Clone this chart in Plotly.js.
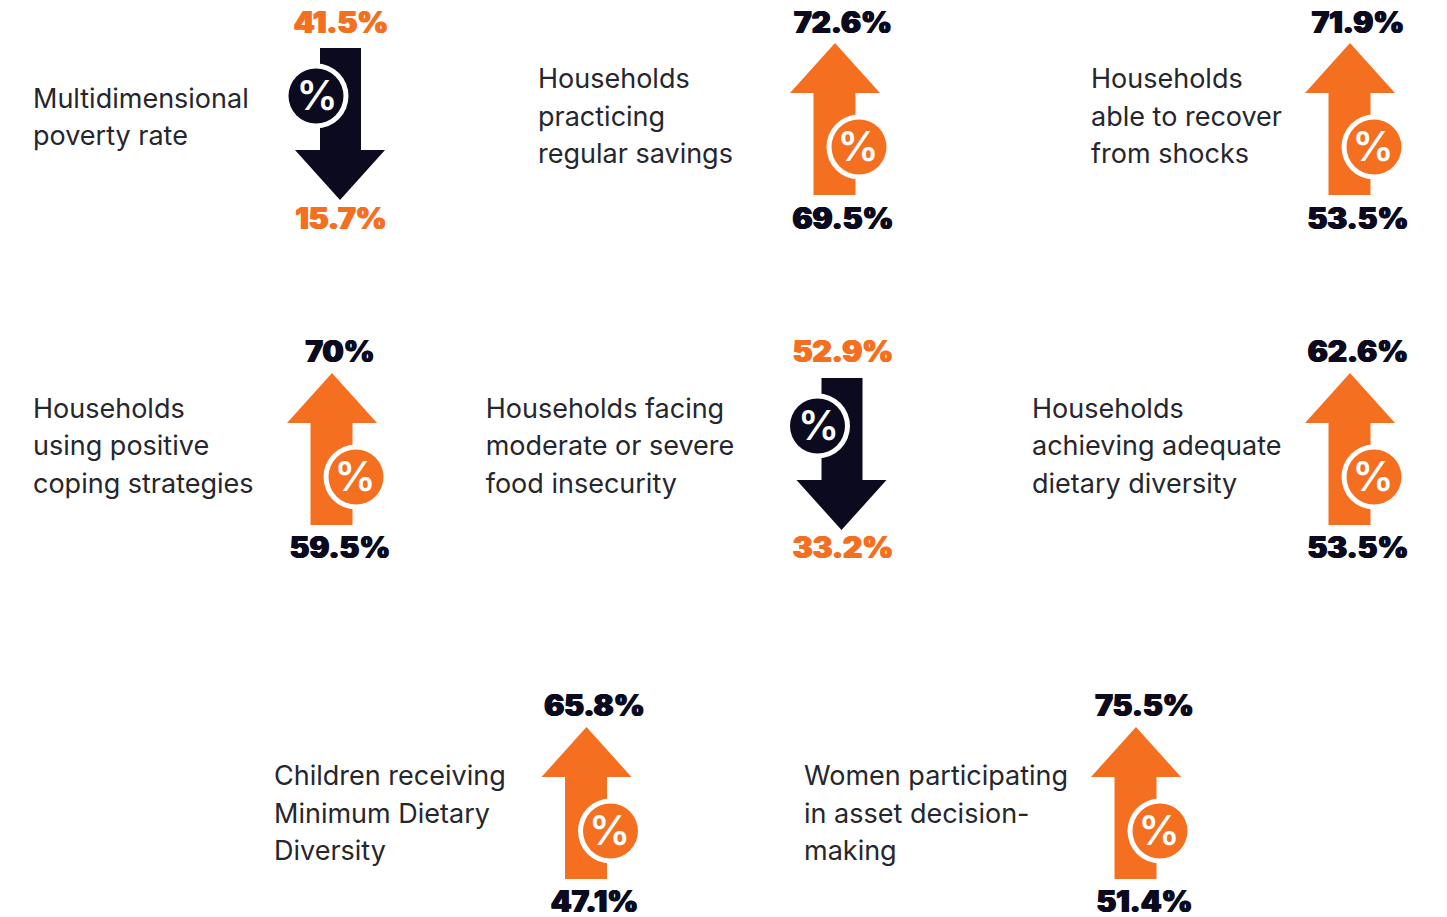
<!DOCTYPE html>
<html><head><meta charset="utf-8">
<script src="https://cdn.plot.ly/plotly-3.0.1.min.js"></script>
<style>html,body{margin:0;padding:0;background:#fff;overflow:hidden}#c{width:1447px;height:917px}</style>
</head><body><div id="c"></div>
<script>
const indicators = [
  ["Multidimensional","poverty rate"],
  ["Households","practicing","regular savings"],
  ["Households","able to recover","from shocks"],
  ["Households","using positive","coping strategies"],
  ["Households facing","moderate or severe","food insecurity"],
  ["Households","achieving adequate","dietary diversity"],
  ["Children receiving","Minimum Dietary","Diversity"],
  ["Women participating","in asset decision-","making"]
];
const topValues = ["41.5%","72.6%","71.9%","70%","52.9%","62.6%","65.8%","75.5%"];
const bottomValues = ["15.7%","69.5%","53.5%","59.5%","33.2%","53.5%","47.1%","51.4%"];
const directions = ["down","up","up","up","down","up","up","up"];

// layout anchors, in page pixels
const arrowX = [340,835,1350,332,841.5,1350,586.5,1136];
const arrowTipY = [43,43,43,373,373,373,727,727];
const valueX = [341,843,1358,340,843,1358,594.5,1144.5];
const labelX = [33,538,1091,33,485.7,1032,274,804];
const valueTopY = [25.5,25.5,25.5,354.5,354.5,354.5,708.5,708.5];
const labelMidY = [119.5,119,119,448.6,448.6,448.6,816,816];

const ORANGE="#f56f20", NAVY="#0c0a1e", INK="#26262e";
const LINE=37.4, VALUE_GAP=196.5;
const traces=[];
const layoutW=1447, layoutH=917;

indicators.forEach((lines,i)=>{
  const up=directions[i]==="up", cx=arrowX[i], col=up?ORANGE:NAVY, valCol=up?NAVY:ORANGE;
  const a=arrowTipY[i], t=valueTopY[i];
  let xs,ys,dx,dy,px;
  if(up){
    const tip=a, head=tip+50, base=tip+152;
    xs=[cx,cx+45,cx+20.5,cx+20.5,cx-21.5,cx-21.5,cx-45,cx];
    ys=[tip,head,head,base,base,head,head,tip];
    dx=cx+24; dy=a+104; px=dx-1;
  }else{
    const top=a+5, head=top+102, tip=top+152;
    xs=[cx-20,cx+21,cx+21,cx+45,cx,cx-45,cx-20,cx-20];
    ys=[top,top,head,head,tip,head,head,top];
    dx=cx-24; dy=a+53; px=dx+1;
  }
  traces.push({type:"scatter",mode:"lines",x:xs,y:ys,fill:"toself",fillcolor:col,line:{width:0,color:col},hoverinfo:"skip"});
  traces.push({type:"scatter",mode:"markers",x:[dx],y:[dy],marker:{size:65,color:"#ffffff",line:{width:0}},hoverinfo:"skip"});
  traces.push({type:"scatter",mode:"markers",x:[dx],y:[dy],marker:{size:55,color:col,line:{width:0}},hoverinfo:"skip"});
  traces.push({type:"scatter",mode:"text",x:[px],y:[dy+4],text:["%"],textposition:"middle center",
    textfont:{family:"Inter",size:41,color:"#ffffff",weight:600},hoverinfo:"skip"});
  traces.push({type:"scatter",mode:"text",x:[valueX[i],valueX[i]],y:[t,t+VALUE_GAP],text:[topValues[i],bottomValues[i]],
    textposition:"middle center",
    textfont:{family:"Inter",size:29.7,color:valCol,weight:900,shadow:"0.7px 0 0 "+valCol+", -0.7px 0 0 "+valCol},hoverinfo:"skip"});
  const n=lines.length;
  traces.push({type:"scatter",mode:"text",x:lines.map(()=>labelX[i]),y:lines.map((_,k)=>labelMidY[i]+(k-(n-1)/2)*LINE),text:lines,
    textposition:"middle right",textfont:{family:"Inter",size:27,color:INK,weight:400},hoverinfo:"skip"});
});

Plotly.newPlot("c",traces,{
  width:layoutW,height:layoutH,margin:{l:0,r:0,t:0,b:0},showlegend:false,
  paper_bgcolor:"#fff",plot_bgcolor:"#fff",
  xaxis:{range:[0,layoutW],visible:false,fixedrange:true},
  yaxis:{range:[layoutH,0],visible:false,fixedrange:true}
},{displayModeBar:false,staticPlot:true});
</script></body></html>
